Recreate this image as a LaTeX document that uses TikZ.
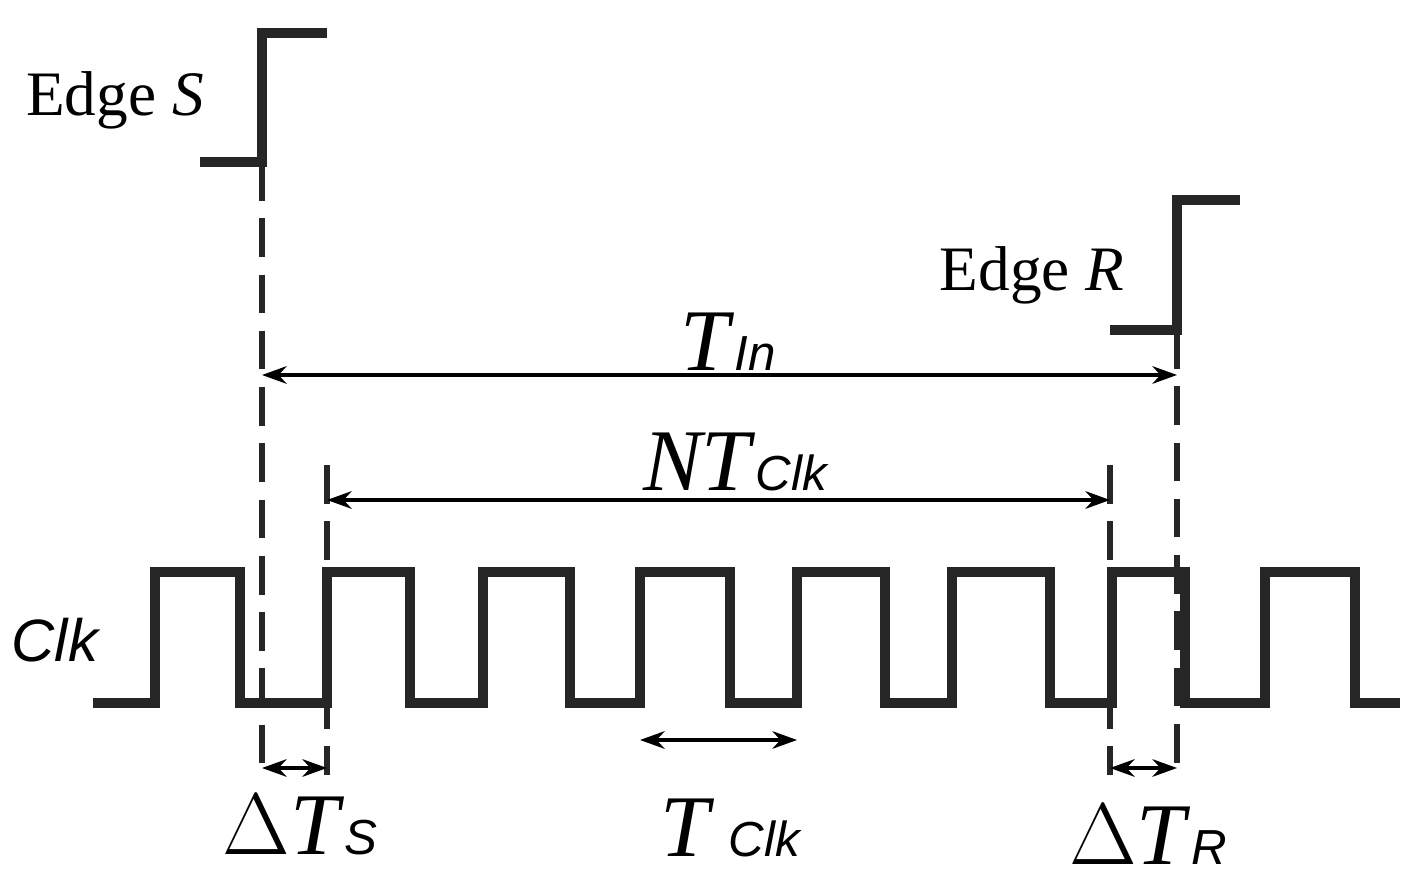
\documentclass[tikz,border=0pt]{standalone}
\usepackage{fontspec}
\setmainfont{Liberation Serif}
\newfontfamily\subfont{Liberation Sans}
\usetikzlibrary{arrows.meta}
\newcommand{\sub}[1]{{\fontsize{14}{14}\subfont\itshape #1}}
\begin{document}
\begin{tikzpicture}[x=0.01cm,y=-0.01cm,
    wave/.style={line width=2.6pt, black!85},
    guide/.style={line width=1.9pt, black!85, dash pattern=on 11pt off 5pt},
    span/.style={{Stealth[length=7pt,width=5pt]}-{Stealth[length=7pt,width=5pt]}, line width=1pt},
    lbl/.style={font=\fontsize{18}{18}\selectfont},
    big/.style={font=\fontsize{25}{25}\selectfont}
]
\useasboundingbox (0,0) rectangle (1425,892);

% Edges
\draw[wave] (200,162) -- (262,162) -- (262,33) -- (327,33);
\draw[wave] (1110,330) -- (1177,330) -- (1177,200) -- (1240,200);
\node[lbl] (edgeS) at (115,100) {Edge \textit{S}};
\node[lbl] (edgeR) at (1032,275) {Edge \textit{R}};

% Clock
\draw[wave] (93,703) -- (155,703) -- (155,572) -- (240,572) -- (240,703)
  -- (327,703) -- (327,572) -- (410,572) -- (410,703)
  -- (483,703) -- (483,572) -- (570,572) -- (570,703)
  -- (640,703) -- (640,572) -- (730,572) -- (730,703)
  -- (797,703) -- (797,572) -- (885,572) -- (885,703)
  -- (952,703) -- (952,572) -- (1050,572) -- (1050,703)
  -- (1112,703) -- (1112,572) -- (1185,572) -- (1185,703)
  -- (1265,703) -- (1265,572) -- (1355,572) -- (1355,703) -- (1400,703);
\node[font=\fontsize{17}{17}\subfont\itshape] (clk) at (55,640) {Clk};

% Guides
\coordinate (s0) at (262,162);  \coordinate (s1) at (262,775);
\coordinate (a0) at (327,465);  \coordinate (a1) at (327,775);
\coordinate (b0) at (1110,465); \coordinate (b1) at (1110,775);
\coordinate (r0) at (1177,330); \coordinate (r1) at (1177,775);
\draw[guide] (s0) -- (s1);
\draw[guide] (a0) -- (a1);
\draw[guide] (b0) -- (b1);
\draw[guide] (r0) -- (r1);

% Spans
\coordinate (tin0) at (262,375); \coordinate (tin1) at (1177,375);
\draw[span] (tin0) -- (tin1);
\node[big] (tin) at (728,342) {\textit{T}\sub{In}};
\coordinate (ntc0) at (327,500); \coordinate (ntc1) at (1110,500);
\draw[span] (ntc0) -- (ntc1);
\node[big] (ntc) at (735,462) {\textit{NT}\sub{Clk}};
\coordinate (ds0) at (262,768); \coordinate (ds1) at (327,768);
\draw[span] (ds0) -- (ds1);
\node[big] (dts) at (300,825) {$\Delta$\textit{T}\sub{S}};
\coordinate (tc0) at (640,740); \coordinate (tc1) at (797,740);
\draw[span] (tc0) -- (tc1);
\node[big] (tclk) at (730,828) {\textit{T}\,\sub{Clk}};
\coordinate (dr0) at (1110,768); \coordinate (dr1) at (1177,768);
\draw[span] (dr0) -- (dr1);
\node[big] (dtr) at (1148,835) {$\Delta$\textit{T}\sub{R}};
\end{tikzpicture}
\end{document}
